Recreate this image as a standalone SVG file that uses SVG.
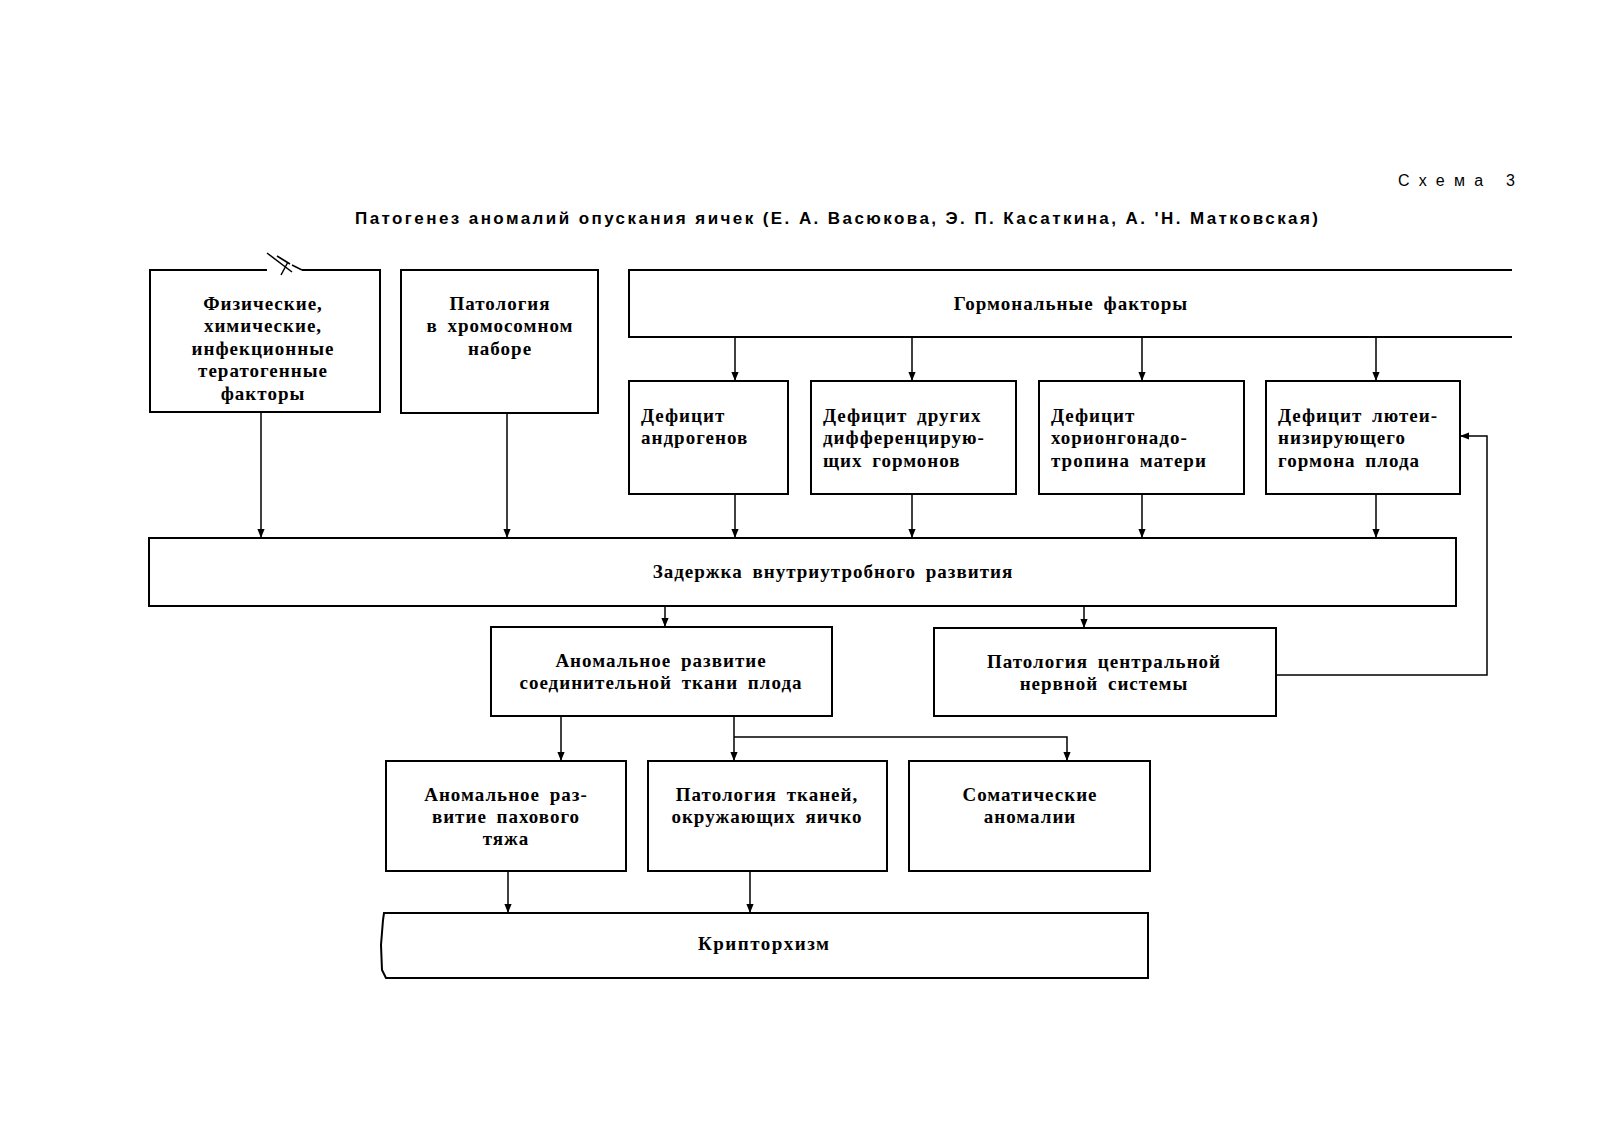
<svg xmlns="http://www.w3.org/2000/svg" width="1600" height="1128" viewBox="0 0 1600 1128">
<style>
.box{fill:none;stroke:#000;stroke-width:2}
.ln{fill:none;stroke:#000;stroke-width:1.5}
.t{font-family:"Liberation Serif","DejaVu Serif",serif;font-size:19px;font-weight:bold;letter-spacing:1px;word-spacing:4px;fill:#000}
.c{text-anchor:middle}
.h{font-family:"Liberation Sans Narrow","Liberation Sans",Arial,sans-serif;fill:#000}
</style>
<defs>
<marker id="ar" viewBox="0 0 10 10" refX="10" refY="5" markerWidth="9" markerHeight="9" markerUnits="userSpaceOnUse" orient="auto">
<path d="M0,1 L10,5 L0,9 Z" fill="#000"/>
</marker>
</defs>
<rect width="1600" height="1128" fill="#fff"/>
<text class="h" x="1398" y="186" font-size="16" textLength="117" lengthAdjust="spacing">Схема 3</text>
<text class="h" x="355" y="224" font-size="17" font-weight="bold" textLength="963" lengthAdjust="spacing">Патогенез аномалий опускания яичек (Е. А. Васюкова, Э. П. Касаткина, А. 'Н. Матковская)</text>

<g id="n-physical">
<path class="box" d="M267,270 H150 V412 H380 V270 H302"/>
<path class="ln" d="M267,253 L292,272 M277,256 L290,264 M281,275 L288,262 M292,265 L302,270" stroke-width="1.5"/>
<text class="t c" x="263" y="310">Физические,</text>
<text class="t c" x="263" y="332">химические,</text>
<text class="t c" x="263" y="355">инфекционные</text>
<text class="t c" x="263" y="377">тератогенные</text>
<text class="t c" x="263" y="400">факторы</text>
</g>
<g id="n-chromosome">
<rect class="box" x="401" y="270" width="197" height="143"/>
<text class="t c" x="500" y="310">Патология</text>
<text class="t c" x="500" y="332">в хромосомном</text>
<text class="t c" x="500" y="355">наборе</text>
</g>
<g id="n-hormonal">
<path class="box" d="M1512,270 H629 V337 H1512"/>
<text class="t c" x="1071" y="310">Гормональные факторы</text>
</g>
<g id="n-d1">
<rect class="box" x="629" y="381" width="159" height="113"/>
<text class="t" x="641" y="422">Дефицит</text>
<text class="t" x="641" y="444">андрогенов</text>
</g>
<g id="n-d2">
<rect class="box" x="811" y="381" width="205" height="113"/>
<text class="t" x="823" y="422">Дефицит других</text>
<text class="t" x="823" y="444">дифференцирую-</text>
<text class="t" x="823" y="467">щих гормонов</text>
</g>
<g id="n-d3">
<rect class="box" x="1039" y="381" width="205" height="113"/>
<text class="t" x="1051" y="422">Дефицит</text>
<text class="t" x="1051" y="444">хорионгонадо-</text>
<text class="t" x="1051" y="467">тропина матери</text>
</g>
<g id="n-d4">
<rect class="box" x="1266" y="381" width="194" height="113"/>
<text class="t" x="1278" y="422">Дефицит лютеи-</text>
<text class="t" x="1278" y="444">низирующего</text>
<text class="t" x="1278" y="467">гормона плода</text>
</g>
<g id="n-delay">
<rect class="box" x="149" y="538" width="1307" height="68"/>
<text class="t c" x="833" y="578">Задержка внутриутробного развития</text>
</g>
<g id="n-connective">
<rect class="box" x="491" y="627" width="341" height="89"/>
<text class="t c" x="661" y="667">Аномальное развитие</text>
<text class="t c" x="661" y="689">соединительной ткани плода</text>
</g>
<g id="n-cns">
<rect class="box" x="934" y="628" width="342" height="88"/>
<text class="t c" x="1104" y="668">Патология центральной</text>
<text class="t c" x="1104" y="690">нервной системы</text>
</g>
<g id="n-inguinal">
<rect class="box" x="386" y="761" width="240" height="110"/>
<text class="t c" x="506" y="801">Аномальное раз-</text>
<text class="t c" x="506" y="823">витие пахового</text>
<text class="t c" x="506" y="845">тяжа</text>
</g>
<g id="n-tissues">
<rect class="box" x="648" y="761" width="239" height="110"/>
<text class="t c" x="767" y="801">Патология тканей,</text>
<text class="t c" x="767" y="823">окружающих яичко</text>
</g>
<g id="n-somatic">
<rect class="box" x="909" y="761" width="241" height="110"/>
<text class="t c" x="1030" y="801">Соматические</text>
<text class="t c" x="1030" y="823">аномалии</text>
</g>
<g id="n-crypt">
<path class="box" d="M384,913 H1148 V978 H386 L382,970 L381,945 L383,920 Z"/>
<text class="t c" x="764" y="950" font-size="16" textLength="132" lengthAdjust="spacing">Крипторхизм</text>
</g>

<g id="connectors">
<path class="ln" marker-end="url(#ar)" d="M735,337 V381"/>
<path class="ln" marker-end="url(#ar)" d="M912,337 V381"/>
<path class="ln" marker-end="url(#ar)" d="M1142,337 V381"/>
<path class="ln" marker-end="url(#ar)" d="M1376,337 V381"/>
<path class="ln" marker-end="url(#ar)" d="M261,412 V538"/>
<path class="ln" marker-end="url(#ar)" d="M507,413 V538"/>
<path class="ln" marker-end="url(#ar)" d="M735,494 V538"/>
<path class="ln" marker-end="url(#ar)" d="M912,494 V538"/>
<path class="ln" marker-end="url(#ar)" d="M1142,494 V538"/>
<path class="ln" marker-end="url(#ar)" d="M1376,494 V538"/>
<path class="ln" marker-end="url(#ar)" d="M665,606 V627"/>
<path class="ln" marker-end="url(#ar)" d="M1084,606 V628"/>
<path class="ln" marker-end="url(#ar)" d="M1276,675 H1487 V436 H1460"/>
<path class="ln" marker-end="url(#ar)" d="M561,716 V761"/>
<path class="ln" marker-end="url(#ar)" d="M734,716 V761"/>
<path class="ln" marker-end="url(#ar)" d="M734,737 H1067 V761"/>
<path class="ln" marker-end="url(#ar)" d="M508,871 V913"/>
<path class="ln" marker-end="url(#ar)" d="M750,871 V913"/>
</g>
</svg>
